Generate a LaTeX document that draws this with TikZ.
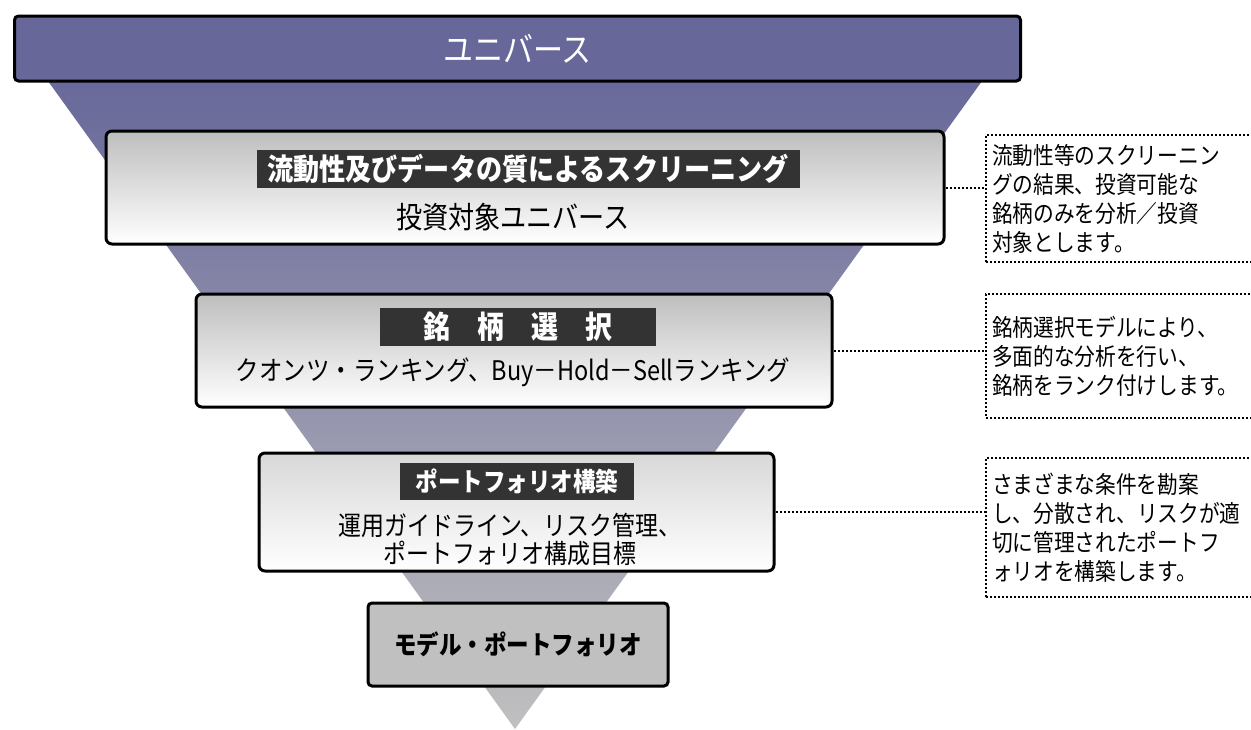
\documentclass[tikz,border=0pt]{standalone}
\usepackage{fontspec}
\newfontfamily\jp[FakeStretch=0.87]{Noto Sans CJK JP}
\definecolor{univ}{HTML}{67679A}
\definecolor{funnelgray}{HTML}{C0C0C0}
\definecolor{titlegray}{HTML}{333333}
\definecolor{boxgray}{HTML}{BEBEBE}
\definecolor{boxlight}{HTML}{D8D8D8}
\begin{document}
\begin{tikzpicture}[x=1pt, y=-1pt,
    stage/.style={draw, line width=3pt, rounded corners=6pt, top color=boxgray, bottom color=white, inner sep=0pt},
    stagetitle/.style={fill=titlegray, text=white, inner sep=0pt, font=\jp\bfseries\fontsize{30}{32}\selectfont},
    stagetext/.style={align=center, font=\jp\fontsize{30}{32}\selectfont},
    memo/.style={draw, dotted, line width=2pt, anchor=west, align=left, text width=270pt, inner xsep=6pt, font=\jp\fontsize{23.8}{29}\selectfont},
    memolink/.style={draw, dotted, line width=2pt}]
        \useasboundingbox (0,0) rectangle (1251,729);
        \clip (0,0) rectangle (1251,729);

        \path[top color=univ, bottom color=funnelgray] (40,70) -- (990,70) -- (515,729) -- cycle;

        \node[draw, line width=3pt, rounded corners=4pt, fill=univ, minimum width=1006pt, minimum height=65pt, text=white, font=\jp\fontsize{34.5}{36}\selectfont] (universe) at (517.5,48.5) {ユニバース};

        \node[stage, minimum width=838pt, minimum height=113pt] (screen) at (525,187.5) {};
        \node[stagetitle, minimum width=543pt, minimum height=38pt] (screentitle) at (528,169) {流動性及びデータの質によるスクリーニング};
        \node[stagetext] (screentext) at (513,217) {投資対象ユニバース};

        \node[stage, minimum width=636pt, minimum height=113pt] (select) at (514,350.5) {};
        \node[stagetitle, minimum width=276pt, minimum height=38pt, font=\jp\bfseries\fontsize{31}{32}\selectfont] (selecttitle) at (518,327) {銘　柄　選　択};
        \node[stagetext, font=\jp\fontsize{27}{30}\selectfont] (selecttext) at (513,372) {クオンツ・ランキング、Buy－Hold－Sellランキング};

        \node[stage, top color=boxlight, minimum width=515pt, minimum height=118pt] (build) at (516.5,512) {};
        \node[stagetitle, minimum width=234pt, minimum height=37pt, font=\jp\bfseries\fontsize{25.9}{28}\selectfont] (buildtitle) at (517,481) {ポートフォリオ構築};
        \node[stagetext, font=\jp\fontsize{26.4}{28}\selectfont] (buildtext) at (510,539) {運用ガイドライン、リスク管理、\\ポートフォリオ構成目標};

        \node[draw, line width=3pt, rounded corners=4pt, fill=funnelgray, minimum width=300pt, minimum height=83pt, font=\jp\bfseries\fontsize{25.9}{28}\selectfont] (model) at (518,644.5) {モデル・ポートフォリオ};

        \node[memo, minimum height=127pt] (screenmemo) at (985,198.5) {流動性等のスクリーニン\\グの結果、投資可能な\\銘柄のみを分析／投資\\対象とします。};
        \node[memo, minimum height=124pt] (selectmemo) at (985,356) {銘柄選択モデルにより、\\多面的な分析を行い、\\銘柄をランク付けします。};
        \node[memo, minimum height=139pt] (buildmemo) at (985,527.5) {さまざまな条件を勘案\\し、分散され、リスクが適\\切に管理されたポートフ\\ォリオを構築します。};

        \path[memolink] (screen.east) -- (screen.east -| screenmemo.west);
        \path[memolink] (select.east) -- (select.east -| selectmemo.west);
        \path[memolink] (build.east) -- (build.east -| buildmemo.west);
    \end{tikzpicture}
\end{document}
